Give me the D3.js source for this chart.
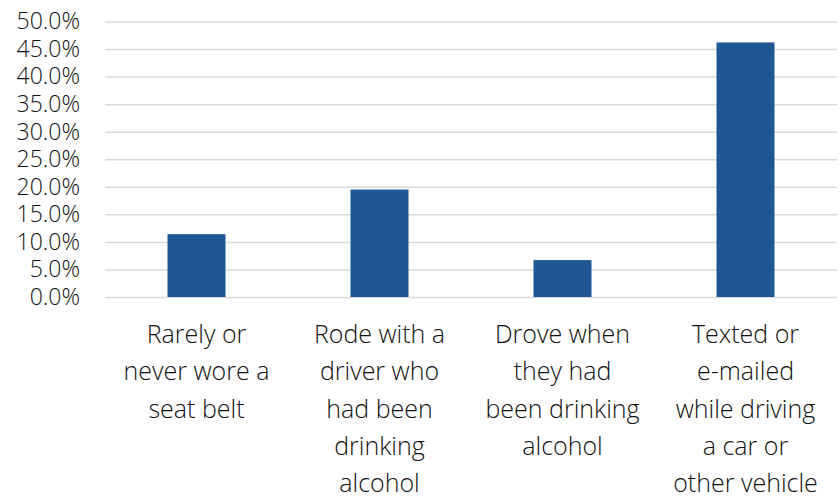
<!DOCTYPE html>
<html>
<head>
<meta charset="utf-8">
<script src="https://cdn.jsdelivr.net/npm/d3@7"></script>
<style>
  html, body { margin: 0; padding: 0; background: #fff; }
  svg { display: block; }
  text { fill: #111; font-family: "Open Sans", Lato, sans-serif; }
</style>
</head>
<body>
<svg id="chart" width="840" height="501"></svg>
<script>
// Risky behaviours — share of respondents
const categories = [
  "Rarely or never wore a seat belt",
  "Rode with a driver who had been drinking alcohol",
  "Drove when they had been drinking alcohol",
  "Texted or e-mailed while driving a car or other vehicle"
];
const categoryLines = [
  ["Rarely or", "never wore a", "seat belt"],
  ["Rode with a", "driver who", "had been", "drinking", "alcohol"],
  ["Drove when", "they had", "been drinking", "alcohol"],
  ["Texted or", "e-mailed", "while driving", "a car or", "other vehicle"]
];
const values = [11.4, 19.5, 6.7, 46.2];
const yTicks = [0, 5, 10, 15, 20, 25, 30, 35, 40, 45, 50];

const svg = d3.select("#chart");
const plot = { left: 105, right: 837, top: 21.5, bottom: 297 };

const x = d3.scaleBand()
  .domain(categories)
  .range([plot.left, plot.right])
  .paddingInner(0.683)
  .paddingOuter(0.3415);

const y = d3.scaleLinear()
  .domain([0, 50])
  .range([plot.bottom, plot.top]);

// gridlines + tick labels
const yAxis = d3.axisLeft(y)
  .tickValues(yTicks)
  .tickSize(-(plot.right - plot.left))
  .tickPadding(25)
  .tickFormat(d => d.toFixed(1) + "%");

const gy = svg.append("g")
  .attr("transform", `translate(${plot.left},0)`)
  .call(yAxis);
gy.select(".domain").remove();
gy.selectAll(".tick line").attr("stroke", "#d9d9d9").attr("stroke-width", 1.5);
gy.selectAll(".tick text")
  .attr("font-size", 23)
  .attr("font-weight", 300)
  .attr("fill", "#111")
  .attr("font-family", "'Open Sans', Lato, sans-serif");

// bars
svg.append("g")
  .selectAll("rect")
  .data(values)
  .join("rect")
  .attr("x", (d, i) => x(categories[i]))
  .attr("y", d => y(d))
  .attr("width", x.bandwidth())
  .attr("height", d => y(0) - y(d))
  .attr("fill", "#1f5795");

// category labels, wrapped
const lab = svg.append("g")
  .selectAll("text")
  .data(categories)
  .join("text")
  .attr("text-anchor", "middle")
  .attr("font-size", 25)
  .attr("font-weight", 300)
  .attr("x", d => x(d) + x.bandwidth() / 2)
  .attr("y", 343);
lab.each(function(d, i) {
  d3.select(this).selectAll("tspan")
    .data(categoryLines[i])
    .join("tspan")
    .attr("x", x(d) + x.bandwidth() / 2)
    .attr("dy", (t, j) => j === 0 ? 0 : 37.3)
    .text(t => t);
});
</script>
</body>
</html>
